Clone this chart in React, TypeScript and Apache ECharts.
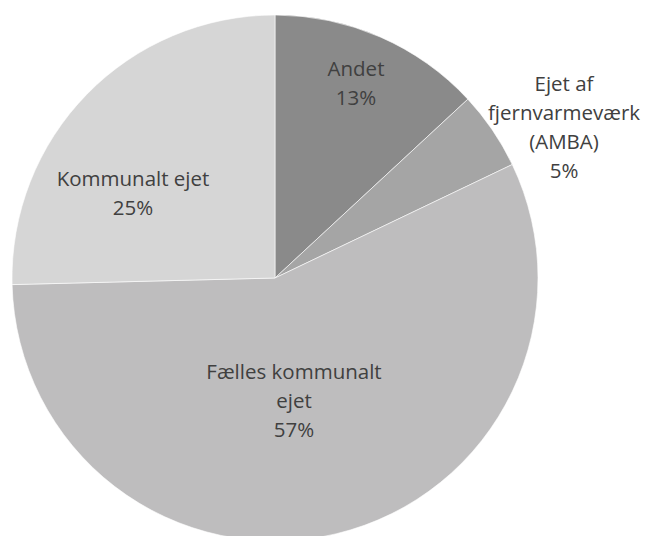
import React, { useEffect, useRef } from "react";
import * as echarts from "echarts";

const categories = ["Andet", "Ejet af\nfjernvarmeværk\n(AMBA)", "Fælles kommunalt\nejet", "Kommunalt ejet"];
const values = [13.1, 4.8, 56.7, 25.4];
const colors = ["#8a8a8a", "#a5a5a5", "#bebdbe", "#d6d6d6"];
const labelPos = [
  [356, 82],
  [564, 126],
  [294, 400],
  [133, 192],
];

export default function App() {
  const ref = useRef<HTMLDivElement>(null);
  useEffect(() => {
    const chart = echarts.init(ref.current!, null, { renderer: "svg" });
    chart.setOption({
      animation: false,
      backgroundColor: "#ffffff",
      series: [
        {
          type: "pie",
          center: [275, 278],
          radius: 263,
          startAngle: 90,
          clockwise: true,
          data: categories.map((c, i) => ({
            name: c,
            value: values[i],
            itemStyle: { color: colors[i] },
          })),
          itemStyle: { borderColor: "#ffffff", borderWidth: 0.6 },
          label: {
            show: true,
            position: "inside",
            formatter: (p: any) => `${p.name}\n${Math.round(p.percent)}%`,
            color: "#404040",
            fontFamily: "Open Sans",
            fontSize: 20.5,
            lineHeight: 29,
            align: "center",
          },
          labelLine: { show: false },
          labelLayout: (p: any) => ({
            x: labelPos[p.dataIndex][0],
            y: labelPos[p.dataIndex][1],
            align: "center",
            verticalAlign: "middle",
          }),
        },
      ],
    });
    return () => chart.dispose();
  }, []);
  return (
    <div
      ref={ref}
      style={{ position: "fixed", left: 0, top: 0, width: 646, height: 536 }}
    />
  );
}
